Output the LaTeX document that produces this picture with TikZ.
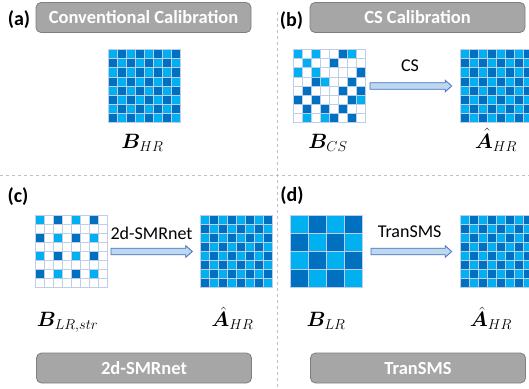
\documentclass[tikz,border=0pt]{standalone}
\usepackage{fontspec}
\setmainfont{Carlito}
\usepackage{bm}
\usetikzlibrary{calc}
\definecolor{lb}{RGB}{0,176,240}
\definecolor{db}{RGB}{0,112,192}
\definecolor{gl}{RGB}{190,205,232}
\definecolor{boxfill}{RGB}{166,166,166}
\definecolor{boxline}{RGB}{127,127,127}
\definecolor{arrfill}{RGB}{189,215,238}
\definecolor{arrline}{RGB}{68,114,196}
\definecolor{sepcol}{RGB}{191,191,191}
\tikzset{
 titlebox/.style={draw=boxline, fill=boxfill, rounded corners=5pt, line width=0.8pt, text=white,
   font=\fontsize{18.5}{20}\selectfont\bfseries, inner sep=0pt, minimum width=215pt, minimum height=30pt},
 panellabel/.style={font=\fontsize{20}{22}\selectfont\bfseries, inner sep=0pt},
 arrlabel/.style={font=\fontsize{18}{20}\selectfont, inner sep=0pt},
 mathlabel/.style={font=\fontsize{19.5}{21}\selectfont, inner sep=0pt, anchor=base},
 cell/.style={draw=gl, line width=0.4pt},
 blockarrow/.style={draw=arrline, fill=arrfill, line width=0.8pt, line join=miter},
 sepline/.style={draw=sepcol, dashed, line width=0.6pt},
 gridframe/.style={draw=none, minimum size=72.6pt, inner sep=0pt}
}
\newcommand\subtxt[1]{\mbox{\fontsize{14}{15}\selectfont$#1$}}
\newcommand\checkerboard[4]{%
  \foreach \rr in {0,...,#3}{\foreach \cc in {0,...,#3}{%
    \pgfmathtruncatemacro\pp{mod(\rr+\cc,2)}%
    \ifnum\pp=0 \def\cellcol{lb}\else\def\cellcol{db}\fi
    \path[cell, fill=\cellcol] (#1+\cc*#4, #2+\rr*#4) rectangle ++(#4,#4);
  }}}
\newcommand\sparsegrid[4]{%
  \foreach \rr in {0,...,7}{\foreach \cc in {0,...,7}{%
    \path[cell, fill=white] (#1+\cc*#3, #2+\rr*#3) rectangle ++(#3,#3);}}
  \foreach \cc/\rr/\cl in {#4}{%
    \path[cell, fill=\cl] (#1+\cc*#3, #2+\rr*#3) rectangle ++(#3,#3);}}
\newcommand\blockarrowdraw[2]{%
  \draw[blockarrow] ($(#1)+(0,-3.3)$) -- ($(#2)+(-6.5,-3.3)$) -- ($(#2)+(-6.5,-5.8)$) -- (#2)
    -- ($(#2)+(-6.5,5.8)$) -- ($(#2)+(-6.5,3.3)$) -- ($(#1)+(0,3.3)$) -- cycle;}
\begin{document}
\begin{tikzpicture}[x=1pt,y=-1pt]
\useasboundingbox (0,0) rectangle (529,388);
\fill[white] (0,0) rectangle (529,388);

% separators
\draw[sepline] (277,12) -- (277,388);
\draw[sepline] (0,175) -- (529,175);

% title boxes
\node[titlebox] (ta) at (143.5,17.5) {Conventional Calibration};
\node[titlebox] (tb) at (417.5,17.5) {CS Calibration};
\node[titlebox] (tc) at (144,368) {2d-SMRnet};
\node[titlebox] (td) at (418,368) {TranSMS};

% panel labels
\node[panellabel] (la) at (19,20) {(a)};
\node[panellabel] (lb) at (291.5,21) {(b)};
\node[panellabel] (lc) at (18,197) {(c)};
\node[panellabel] (ld) at (292,196) {(d)};

% grids
\checkerboard{107.7}{49.5}{7}{9.075}
\node[gridframe] (bhr) at (144,85.8) {};

\sparsegrid{292.7}{49.5}{9.075}{0/0/lb, 2/0/lb, 5/0/db, 6/0/lb,
  1/1/lb, 4/1/db,
  0/2/lb, 2/2/lb, 7/2/db,
  2/3/db, 3/3/lb, 6/3/db,
  1/4/db, 5/4/db, 7/4/db,
  0/5/db, 2/5/db, 6/5/db, 7/5/lb,
  1/6/db, 3/6/db, 5/6/db,
  1/7/lb, 3/7/lb, 4/7/db, 6/7/db}
\node[gridframe] (bcs) at (329,85.8) {};

\checkerboard{459.7}{49.5}{7}{9.075}
\node[gridframe] (ahrb) at (496,85.8) {};

\sparsegrid{34.7}{214.7}{9.075}{0/0/lb, 2/0/db, 4/0/lb, 6/0/db,
  0/2/db, 2/2/lb, 4/2/db, 6/2/lb,
  0/4/lb, 2/4/db, 4/4/lb, 6/4/db,
  0/6/db, 2/6/lb, 4/6/db, 6/6/lb}
\node[gridframe] (blrs) at (71,251) {};

\checkerboard{199.7}{214.7}{7}{9.075}
\node[gridframe] (ahrc) at (236,251) {};

\checkerboard{289.7}{214.7}{3}{18.15}
\node[gridframe] (blr) at (326,251) {};

\checkerboard{459.7}{214.7}{7}{9.075}
\node[gridframe] (ahrd) at (496,251) {};

% math labels
\node[mathlabel] (mbhr) at (142.5,148) {$\bm{B}_{\subtxt{HR}}$};
\node[mathlabel] (mbcs) at (328,148) {$\bm{B}_{\subtxt{CS}}$};
\node[mathlabel] (mahrb) at (496,148) {$\bm{\hat{A}}_{\subtxt{HR}}$};
\node[mathlabel] (mblrs) at (67.5,326.5) {$\bm{B}_{\subtxt{LR{,}str}}$};
\node[mathlabel] (mahrc) at (232.5,326.5) {$\bm{\hat{A}}_{\subtxt{HR}}$};
\node[mathlabel] (mblr) at (326,326.5) {$\bm{B}_{\subtxt{LR}}$};
\node[mathlabel] (mahrd) at (491,326.5) {$\bm{\hat{A}}_{\subtxt{HR}}$};

% arrows
\coordinate (s1) at (370,86);
\coordinate (e1) at (451.7,86);
\coordinate (s2) at (111,251.5);
\coordinate (e2) at (192.3,251.5);
\coordinate (s3) at (371,251.5);
\coordinate (e3) at (451.7,251.5);
\blockarrowdraw{s1}{e1}
\blockarrowdraw{s2}{e2}
\blockarrowdraw{s3}{e3}
\node[arrlabel] (cs) at (410,66) {CS};
\node[arrlabel] (smr) at (151.5,233) {2d-SMRnet};
\node[arrlabel] (tsms) at (409.7,232) {TranSMS};
\end{tikzpicture}
\end{document}
